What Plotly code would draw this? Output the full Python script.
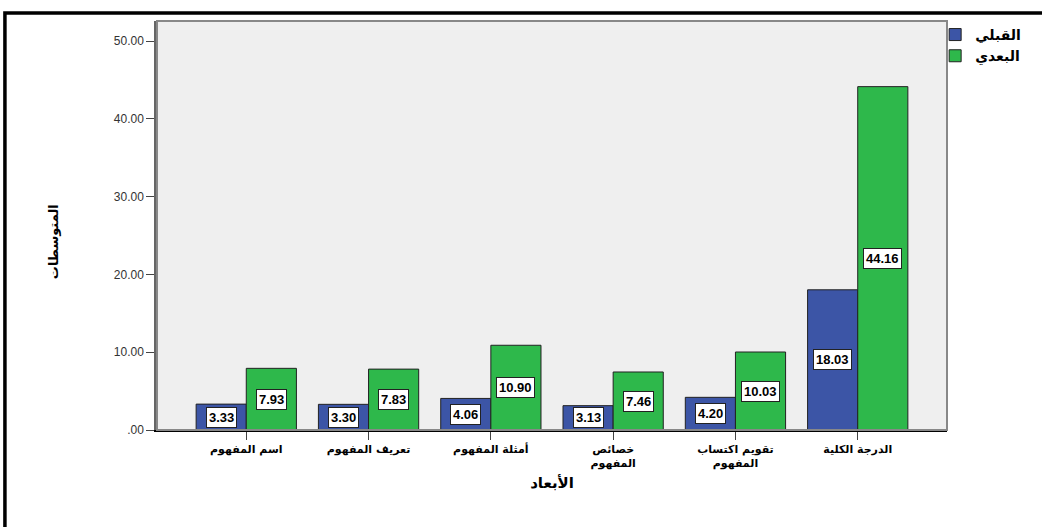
import plotly.graph_objects as go

categories = ["اسم المفهوم", "تعريف المفهوم", "أمثلة المفهوم",
              "خصائص<br>المفهوم", "تقويم اكتساب<br>المفهوم", "الدرجة الكلية"]
pre_means = [3.33, 3.30, 4.06, 3.13, 4.20, 18.03]
post_means = [7.93, 7.83, 10.90, 7.46, 10.03, 44.16]
y_ticks = [0, 10, 20, 30, 40, 50]
y_tick_labels = [".00", "10.00", "20.00", "30.00", "40.00", "50.00"]

BLUE = "#3c55a6"
GREEN = "#2eb84b"
idx = list(range(len(categories)))

fig = go.Figure()
fig.add_trace(go.Bar(x=idx, y=pre_means, name="<b>القبلي</b>", marker=dict(color=BLUE, line=dict(color="#222222", width=1))))
fig.add_trace(go.Bar(x=idx, y=post_means, name="<b>البعدي</b>", marker=dict(color=GREEN, line=dict(color="#222222", width=1))))

# value labels in white boxes, centred on each bar's mid-height
for series, shift in ((pre_means, -25), (post_means, 25)):
    for i, v in enumerate(series):
        fig.add_annotation(x=i, y=v / 2, xshift=shift, text=f"<b>{v:.2f}</b>", showarrow=False,
                           bgcolor="white", bordercolor="#222222", borderwidth=1, borderpad=2,
                           font=dict(family="Arial, Liberation Sans", size=13, color="black"))

fig.add_annotation(x=-0.142, y=0.46, xref="paper", yref="paper", text="<b>المتوسطات</b>",
                   textangle=-90, showarrow=False, font=dict(family="DejaVu Sans", size=13, color="black"))

# outer frame
fig.add_shape(type="rect", xref="paper", yref="paper", x0=-0.1925, x1=1.2, y0=-0.3, y1=1.0195,
              line=dict(color="black", width=3.5), fillcolor="rgba(0,0,0,0)", layer="below")

fig.update_layout(
    width=1042, height=527,
    margin=dict(l=157, r=95, t=21, b=97),
    paper_bgcolor="white", plot_bgcolor="#efefef",
    barmode="group", bargap=0.18, bargroupgap=0,
    showlegend=True,
    legend=dict(x=0.985, y=1.005, xanchor="left", yanchor="top", bgcolor="rgba(0,0,0,0)",
                font=dict(family="DejaVu Sans", size=14, color="black"), tracegroupgap=0,
                itemwidth=30),
    xaxis=dict(tickmode="array", tickvals=idx, ticktext=[f"<b>{c}</b>" for c in categories],
               range=[-0.73, 5.73], ticks="outside", ticklen=8, tickcolor="#444444",
               showline=True, linecolor="black", linewidth=1.5, mirror=False, showgrid=False,
               tickfont=dict(family="DejaVu Sans", size=11, color="black"),
               title=dict(text="<b>الأبعاد</b>", font=dict(family="DejaVu Sans", size=15, color="black"), standoff=8)),
    yaxis=dict(tickmode="array", tickvals=y_ticks, ticktext=y_tick_labels, range=[0, 52.6],
               ticks="outside", ticklen=8, tickcolor="#444444", showgrid=False,
               showline=True, linecolor="#666666", linewidth=2.5, zeroline=False,
               tickfont=dict(family="Arial, Liberation Sans", size=12, color="#333333")),
)
# right and top border of plot area
fig.add_shape(type="rect", xref="paper", yref="paper", x0=0, x1=1, y0=0, y1=1,
              line=dict(color="#888888", width=2), fillcolor="rgba(0,0,0,0)")

fig.write_html("out.html")
